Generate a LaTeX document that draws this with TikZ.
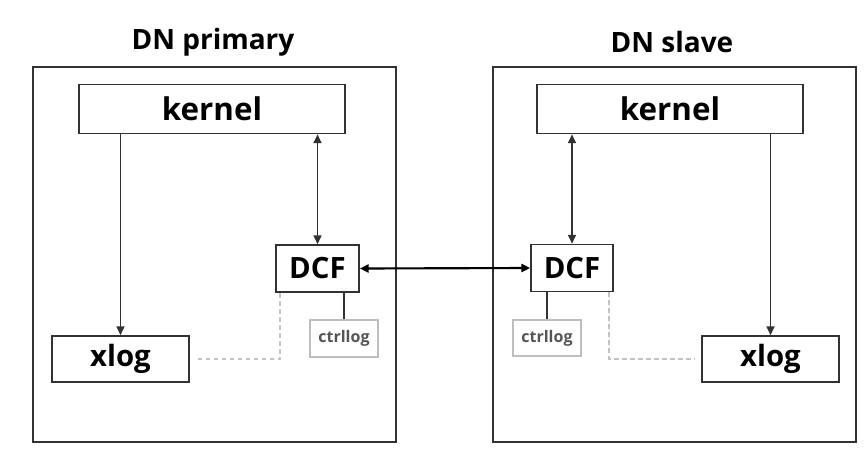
\documentclass[tikz,border=0pt]{standalone}
\usepackage{fontspec}
\setmainfont{Open Sans}
\usepackage{tikz}
\usetikzlibrary{arrows.meta}
\definecolor{lineGray}{RGB}{50,50,50}
\definecolor{dashGray}{RGB}{195,195,195}
\definecolor{logGray}{RGB}{190,190,190}
\definecolor{logText}{RGB}{85,85,85}
\tikzset{
  box/.style={draw=lineGray, line width=1.3pt, fill=white, inner sep=0pt, font=\bfseries},
  logbox/.style={draw=logGray, line width=0.9pt, fill=white, inner sep=0pt, text=logText, font=\bfseries\fontsize{12}{14}\selectfont},
  link/.style={draw=lineGray, line width=1.2pt},
  tip/.style={-{Triangle[length=6.5pt,width=6pt]}},
  bitip/.style={{Triangle[length=6.5pt,width=6pt]}-{Triangle[length=6.5pt,width=6pt]}},
  hint/.style={draw=dashGray, line width=1.1pt, dash pattern=on 3.5pt off 2.5pt}
}
\begin{document}
\begin{tikzpicture}[x=0.75pt,y=0.75pt,yscale=-1,xscale=1]
\useasboundingbox (0,0) rectangle (865,458);
% containers
\draw [lineGray, line width=1.3pt] (33,67) rectangle (396,442);
\draw [lineGray, line width=1.3pt] (493,67) rectangle (856,442);
\node (ptitle) at (213,42) {\bfseries\fontsize{21}{24}\selectfont DN primary};
\node (stitle) at (672,42) {\bfseries\fontsize{21}{24}\selectfont DN slave};
% primary side
\node [box, minimum width=199.5pt, minimum height=36.75pt, font=\bfseries\fontsize{23.5}{26}\selectfont] (pkernel) at (212,109) {kernel};
\node [box, minimum width=62.25pt, minimum height=35.25pt, font=\bfseries\fontsize{22}{25}\selectfont] (pdcf) at (317.5,268.5) {DCF};
\node [box, minimum width=102.75pt, minimum height=34.5pt, font=\bfseries\fontsize{22}{25}\selectfont] (pxlog) at (120.5,359) {xlog};
\node [logbox, minimum width=51pt, minimum height=27.75pt] (pctrl) at (344,338.5) {ctrllog};
% slave side
\node [box, minimum width=199.5pt, minimum height=36.75pt, font=\bfseries\fontsize{23.5}{26}\selectfont] (skernel) at (670,109) {kernel};
\node [box, minimum width=61.5pt, minimum height=35.25pt, font=\bfseries\fontsize{22}{25}\selectfont] (sdcf) at (572,268) {DCF};
\node [box, minimum width=102.75pt, minimum height=34.5pt, font=\bfseries\fontsize{22}{25}\selectfont] (sxlog) at (770.5,359) {xlog};
\node [logbox, minimum width=51pt, minimum height=27pt] (sctrl) at (547,338) {ctrllog};
% connectors
\draw [link, tip] (pxlog.north |- pkernel.south) -- (pxlog.north);
\draw [link, bitip] (pdcf.north |- pkernel.south) -- (pdcf.north);
\draw [link] (pctrl.north) -- (pctrl.north |- pdcf.south);
\draw [hint] ([xshift=3.75pt]pdcf.south west) |- ([xshift=4.5pt]pxlog.east);
\draw [link, tip] (sxlog.north |- skernel.south) -- (sxlog.north);
\draw [link, bitip] (sdcf.north |- skernel.south) -- (sdcf.north);
\draw [link] (sctrl.north) -- (sctrl.north |- sdcf.south);
\draw [hint] ([xshift=-3.75pt]sdcf.south east) |- ([xshift=-4.5pt]sxlog.west);
\draw [link, bitip, draw=black, line width=1.6pt] (pdcf.east) -- (sdcf.west);
\end{tikzpicture}
\end{document}
